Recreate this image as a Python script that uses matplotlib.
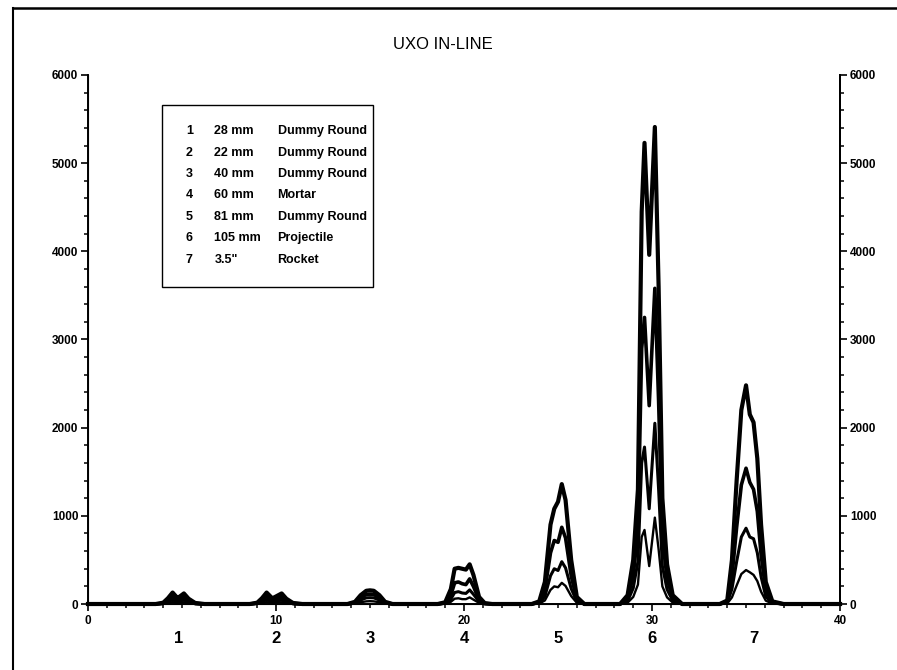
import matplotlib
matplotlib.use("Agg")
import matplotlib.pyplot as plt
from matplotlib.lines import Line2D
from matplotlib.patches import Rectangle
from matplotlib.ticker import MultipleLocator

plt.rcParams["font.family"] = ["Liberation Sans", "DejaVu Sans"]

# position along the line (x) and the four channel responses
line_pos = [
    0.0, 3.6, 4.0, 4.25, 4.5, 4.75, 4.85, 5.1, 5.35, 5.7, 6.2,
    8.6, 9.0, 9.25, 9.5, 9.8, 9.95, 10.3, 10.55, 10.9, 11.4,
    13.8, 14.2, 14.5, 14.8, 15.0, 15.2, 15.5, 15.8, 16.2,
    18.6, 19.0, 19.3, 19.5, 19.7, 19.9, 20.1, 20.3, 20.5, 20.8, 21.1, 21.5,
    23.6, 24.0, 24.3, 24.6, 24.8, 25.0, 25.2, 25.4, 25.7, 26.0, 26.4,
    28.3, 28.7, 29.0, 29.25, 29.45, 29.6, 29.85, 30.15, 30.35, 30.55, 30.8, 31.1, 31.6,
    33.6, 34.0, 34.25, 34.5, 34.75, 35.0, 35.2, 35.4, 35.6, 35.8, 36.05, 36.4, 37.0,
    40.0,
]

ch1 = [
    0, 0, 15, 65, 130, 70, 80, 120, 60, 12, 0,
    0, 15, 65, 130, 65, 80, 120, 60, 12, 0,
    0, 25, 100, 150, 155, 150, 100, 25, 0,
    0, 20, 170, 400, 410, 400, 390, 450, 330, 80, 10, 0,
    0, 30, 250, 900, 1080, 1160, 1360, 1180, 500, 80, 0,
    0, 100, 500, 1300, 4450, 5230, 3960, 5410, 3600, 1200, 450, 100, 0,
    0, 40, 500, 1400, 2200, 2480, 2150, 2060, 1650, 900, 250, 30, 0,
    0,
]
ch2 = [
    0, 0, 8, 40, 85, 45, 52, 80, 40, 7, 0,
    0, 10, 42, 85, 42, 52, 80, 40, 7, 0,
    0, 16, 72, 108, 112, 108, 72, 16, 0,
    0, 12, 100, 240, 250, 230, 220, 285, 200, 50, 6, 0,
    0, 20, 160, 580, 720, 700, 870, 750, 320, 50, 0,
    0, 60, 320, 850, 2900, 3250, 2250, 3580, 2300, 760, 290, 65, 0,
    0, 25, 310, 870, 1350, 1540, 1380, 1300, 1050, 560, 155, 18, 0,
    0,
]
ch3 = [
    0, 0, 4, 22, 50, 25, 30, 45, 22, 3, 0,
    0, 5, 22, 50, 24, 30, 45, 22, 3, 0,
    0, 9, 45, 70, 72, 70, 45, 9, 0,
    0, 7, 55, 130, 140, 125, 120, 160, 110, 28, 3, 0,
    0, 10, 85, 320, 400, 380, 480, 410, 175, 28, 0,
    0, 32, 180, 480, 1600, 1780, 1080, 2050, 1300, 430, 165, 38, 0,
    0, 14, 170, 480, 760, 860, 760, 740, 580, 310, 85, 10, 0,
    0,
]
ch4 = [
    0, 0, 2, 10, 22, 12, 14, 20, 10, 1, 0,
    0, 2, 10, 22, 11, 14, 20, 10, 1, 0,
    0, 4, 20, 30, 32, 30, 20, 4, 0,
    0, 3, 25, 60, 65, 55, 55, 75, 50, 13, 1, 0,
    0, 5, 40, 160, 200, 190, 240, 205, 90, 14, 0,
    0, 15, 80, 220, 760, 840, 430, 980, 620, 200, 75, 17, 0,
    0, 6, 75, 210, 340, 385, 360, 330, 260, 140, 38, 5, 0,
    0,
]

# target numbers under the axis and their positions
target_ids = ["1", "2", "3", "4", "5", "6", "7"]
target_pos = [4.8, 10.0, 15.0, 20.0, 25.0, 30.0, 35.4]

legend_ids = ["1", "2", "3", "4", "5", "6", "7"]
legend_sizes = ["28 mm", "22 mm", "40 mm", "60 mm", "81 mm", "105 mm", "3.5\""]
legend_names = ["Dummy Round", "Dummy Round", "Dummy Round", "Mortar",
                "Dummy Round", "Projectile", "Rocket"]

fig = plt.figure(figsize=(8.97, 6.70), dpi=100)
ax = fig.add_axes([0.0981, 0.0985, 0.8384, 0.7896])

for ys, lw in zip([ch1, ch2, ch3, ch4], [3.0, 2.6, 2.2, 1.7]):
    ax.plot(line_pos, ys, color="black", lw=lw, solid_joinstyle="round", clip_on=False)

ax.set_xlim(0, 40)
ax.set_ylim(0, 6000)
ax.spines["top"].set_visible(False)
for s in ["left", "right", "bottom"]:
    ax.spines[s].set_linewidth(1.4)

ax.xaxis.set_major_locator(MultipleLocator(10))
ax.xaxis.set_minor_locator(MultipleLocator(1))
ax.yaxis.set_major_locator(MultipleLocator(1000))
ax.yaxis.set_minor_locator(MultipleLocator(200))
ax.tick_params(axis="both", which="major", direction="out", length=5, width=1.2,
               labelsize=8.5)
ax.tick_params(axis="both", which="minor", direction="out", length=3, width=1.1)
ax.tick_params(axis="x", pad=3)
ax.tick_params(axis="y", pad=2)
for lab in ax.get_xticklabels() + ax.get_yticklabels():
    lab.set_fontweight("bold")

ax2 = ax.twinx()
ax2.set_ylim(0, 6000)
ax2.spines["top"].set_visible(False)
ax2.spines["right"].set_linewidth(1.4)
ax2.yaxis.set_major_locator(MultipleLocator(1000))
ax2.yaxis.set_minor_locator(MultipleLocator(200))
ax2.tick_params(axis="y", which="major", direction="out", length=5, width=1.2,
                labelsize=8.5, pad=2)
ax2.tick_params(axis="y", which="minor", direction="out", length=3, width=1.1)
for lab in ax2.get_yticklabels():
    lab.set_fontweight("bold")

for tid, tx in zip(target_ids, target_pos):
    ax.text(tx, -0.066, tid, transform=ax.get_xaxis_transform(), ha="center",
            va="center", fontsize=12, fontweight="bold")

# legend box
ax.add_patch(Rectangle((0.098, 0.599), 0.281, 0.344, transform=ax.transAxes,
                       facecolor="white", edgecolor="black", lw=1.0, zorder=5))
row_top = 0.894
row_step = 0.0406
for i in range(len(legend_ids)):
    yy = row_top - i * row_step
    ax.text(0.130, yy, legend_ids[i], transform=ax.transAxes, va="center",
            fontsize=9, fontweight="bold", zorder=6)
    ax.text(0.168, yy, legend_sizes[i], transform=ax.transAxes, va="center",
            fontsize=9, fontweight="bold", zorder=6)
    ax.text(0.252, yy, legend_names[i], transform=ax.transAxes, va="center",
            fontsize=9, fontweight="bold", zorder=6)

fig.text(0.494, 0.934, "UXO IN-LINE", ha="center", va="center", fontsize=12)

# page frame (left and top edges)
fig.add_artist(Line2D([0.0145, 0.0145], [0.0, 0.988], color="black", lw=1.5,
                      transform=fig.transFigure))
fig.add_artist(Line2D([0.0145, 1.0], [0.988, 0.988], color="black", lw=1.8,
                      transform=fig.transFigure))

fig.savefig("out.png", dpi=100)
